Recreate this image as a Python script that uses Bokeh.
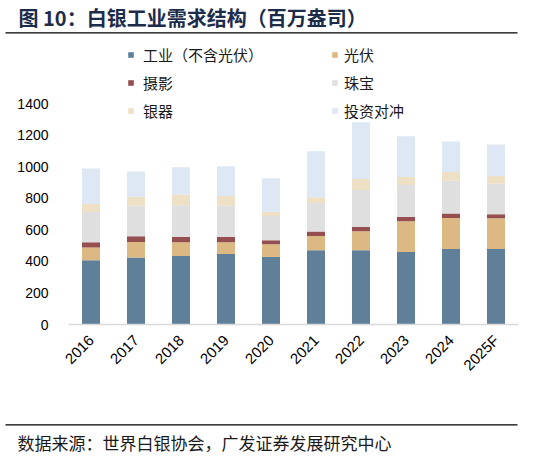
import math
from bokeh.plotting import figure
from bokeh.models import (Range1d, Legend, LegendItem, Label, BoxAnnotation,
                          ColumnDataSource, FixedTicker)
from bokeh.embed import file_html
from bokeh.resources import INLINE

years = ["2016", "2017", "2018", "2019", "2020", "2021", "2022", "2023", "2024", "2025F"]
industrial = [407, 424, 434, 447, 428, 470, 470, 460, 479, 479]
photovoltaic = [80, 99, 87, 74, 80, 91, 121, 194, 196, 194]
photography = [34, 36, 34, 34, 26, 28, 27, 27, 28, 25]
jewelry = [192, 194, 200, 198, 153, 181, 234, 203, 208, 194]
silverware = [50, 57, 68, 61, 28, 36, 70, 50, 55, 49]
investment = [226, 160, 173, 188, 211, 291, 359, 258, 194, 200]

series_keys = ["industrial", "photovoltaic", "photography", "jewelry", "silverware", "investment"]
series_names = ["工业（不含光伏）", "光伏", "摄影", "珠宝", "银器", "投资对冲"]
colors = ["#60809A", "#DCB982", "#954F50", "#DFDFDF", "#EEE0C4", "#DDE8F4"]
y_ticks = [0, 200, 400, 600, 800, 1000, 1200, 1400]

title_text = "图 10：白银工业需求结构（百万盎司）"
source_text = "数据来源：世界白银协会，广发证券发展研究中心"

CJK = "Noto Sans CJK SC"
W, H = 541, 456

# canvas layout (pixels): plot area x 68..518, y 103 (=1400) .. 324 (=0)
PX_L, PX_R, PY_TOP, PY_ZERO = 68, 518, 103, 324
n = len(years)
cat_w = (PX_R - PX_L) / n
x_start = -(PX_L / cat_w) - 0.5
x_end = x_start + W / cat_w
upp = 1400 / (PY_ZERO - PY_TOP)
y_start = -(H - PY_ZERO) * upp
y_end = 1400 + PY_TOP * upp

xpos = list(range(n))
src = ColumnDataSource(dict(x=xpos, industrial=industrial, photovoltaic=photovoltaic,
                            photography=photography, jewelry=jewelry,
                            silverware=silverware, investment=investment))

p = figure(width=W, height=H, x_range=Range1d(x_start, x_end), y_range=Range1d(y_start, y_end),
           output_backend="svg", toolbar_location=None,
           min_border=0, min_border_left=0, min_border_right=0,
           min_border_top=0, min_border_bottom=0)

renderers = p.vbar_stack(series_keys, x="x", width=0.4, color=colors, line_color=None,
                         source=src)

p.outline_line_color = None
p.xgrid.visible = False
p.ygrid.visible = False

p.yaxis.fixed_location = -0.5
p.yaxis.ticker = FixedTicker(ticks=y_ticks)
p.yaxis.bounds = (0, 1400)
p.yaxis.axis_line_color = None
p.yaxis.major_tick_line_color = None
p.yaxis.minor_tick_line_color = None
p.yaxis.major_label_text_font = "Liberation Sans"
p.yaxis.major_label_text_font_size = "14px"
p.yaxis.major_label_text_color = "#000000"
p.yaxis.major_label_standoff = 14

p.xaxis.fixed_location = 0
p.xaxis.ticker = FixedTicker(ticks=xpos)
p.xaxis.major_label_overrides = {i: y for i, y in zip(xpos, years)}
p.xaxis.bounds = (-0.5, n - 0.5)
p.xaxis.axis_line_color = "#D9D9D9"
p.xaxis.axis_line_width = 1.5
p.xaxis.major_tick_line_color = None
p.xaxis.minor_tick_line_color = None
p.xaxis.major_label_orientation = math.pi / 4
p.xaxis.major_label_text_font = "Liberation Sans"
p.xaxis.major_label_text_font_size = "15px"
p.xaxis.major_label_text_color = "#000000"
p.xaxis.major_label_standoff = 7


def make_legend(idx, x, y, standoff):
    items = [LegendItem(label=series_names[i], renderers=[renderers[i]]) for i in idx]
    return Legend(items=items, location=(x, y), orientation="vertical",
                  glyph_width=7, glyph_height=7, label_height=18, spacing=7,
                  label_standoff=standoff, padding=0, margin=0,
                  border_line_color=None, background_fill_alpha=0,
                  label_text_font=CJK, label_text_font_size="15px",
                  label_text_color="#1a1a1a")


# location = bottom-left corner, measured from the bottom of the canvas
p.add_layout(make_legend([0, 2, 4], 127, H - 121, 9))
p.add_layout(make_legend([1, 3, 5], 331, H - 121, 6))

# title and rules (screen units measured from bottom-left)
p.add_layout(Label(x=18, y=H - 17, x_units="screen", y_units="screen", text=title_text,
                   text_font=CJK, text_font_size="20px", text_font_style="bold",
                   text_color="#1C2C4A", text_baseline="middle", text_align="left"))
p.add_layout(BoxAnnotation(left=5, right=517, bottom=H - 33, top=H - 31.7,
                           left_units="screen", right_units="screen",
                           bottom_units="screen", top_units="screen",
                           fill_color="#000000", fill_alpha=1, line_color=None))
p.add_layout(BoxAnnotation(left=5, right=517, bottom=H - 425, top=H - 423.7,
                           left_units="screen", right_units="screen",
                           bottom_units="screen", top_units="screen",
                           fill_color="#000000", fill_alpha=1, line_color=None))
p.add_layout(Label(x=17, y=H - 442, x_units="screen", y_units="screen", text=source_text,
                   text_font=CJK, text_font_size="17px",
                   text_color="#1a1a1a", text_baseline="middle", text_align="left"))

open("out.html", "w").write(file_html(p, INLINE))
